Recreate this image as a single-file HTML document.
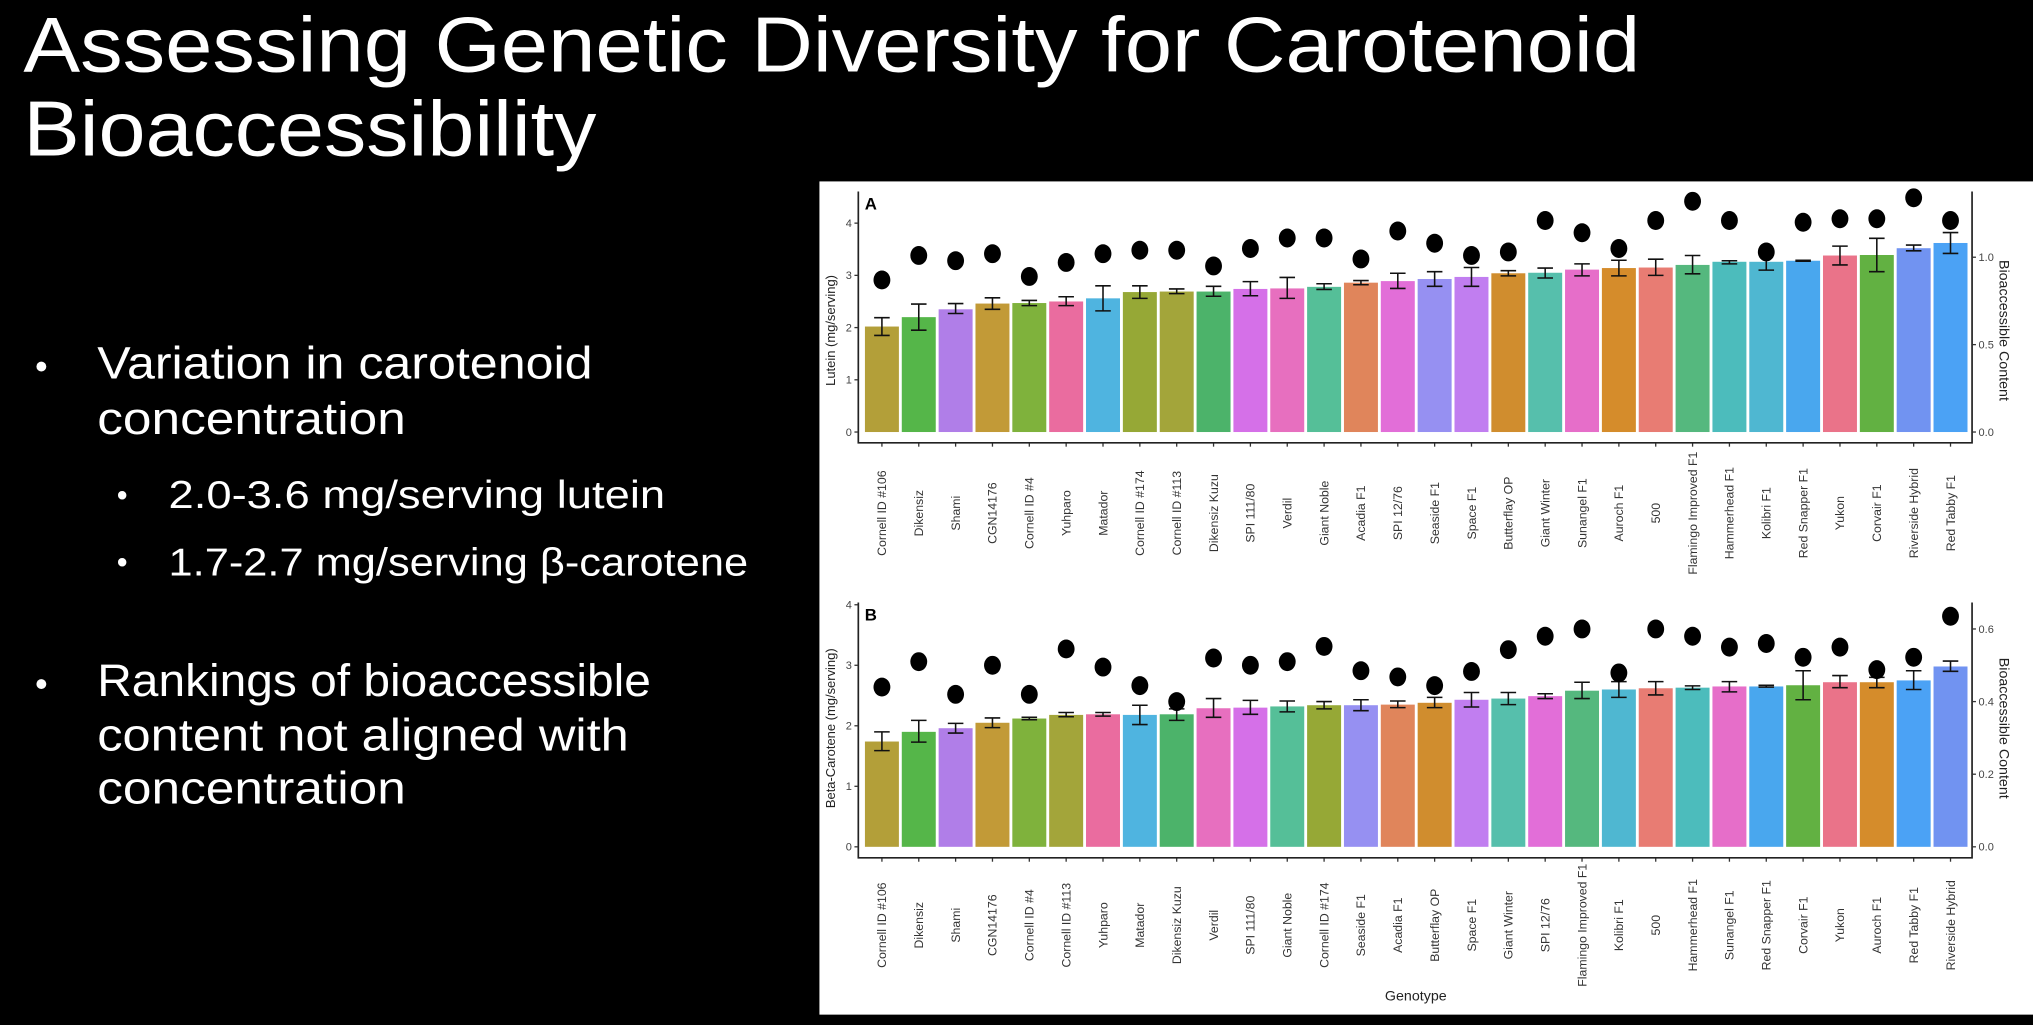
<!DOCTYPE html>
<html><head><meta charset="utf-8"><style>
html,body{margin:0;padding:0;background:#000;overflow:hidden}
svg{display:block}
</style></head><body>
<svg id="root" width="2033" height="1025" viewBox="0 0 1568 791" preserveAspectRatio="none" xmlns="http://www.w3.org/2000/svg" font-family="'Liberation Sans', sans-serif">
<rect x="0" y="0" width="1568" height="791" fill="#000"/>
<g fill="#fff" font-size="60">
<text x="18" y="55" textLength="1247" lengthAdjust="spacingAndGlyphs">Assessing Genetic Diversity for Carotenoid</text>
<text x="18" y="120" textLength="442" lengthAdjust="spacingAndGlyphs">Bioaccessibility</text>
</g>
<g fill="#fff" font-size="35">
<text x="27" y="292" font-size="28">•</text>
<text x="75" y="292" textLength="382" lengthAdjust="spacingAndGlyphs">Variation in carotenoid</text>
<text x="75" y="335" textLength="238" lengthAdjust="spacingAndGlyphs">concentration</text>
<text x="90" y="390" font-size="24">•</text>
<text x="130" y="392" font-size="30" textLength="383" lengthAdjust="spacingAndGlyphs">2.0-3.6 mg/serving lutein</text>
<text x="90" y="442" font-size="24">•</text>
<text x="130" y="444" font-size="30" textLength="447" lengthAdjust="spacingAndGlyphs">1.7-2.7 mg/serving β-carotene</text>
<text x="27" y="537" font-size="28">•</text>
<text x="75" y="537" textLength="427" lengthAdjust="spacingAndGlyphs">Rankings of bioaccessible</text>
<text x="75" y="579" textLength="410" lengthAdjust="spacingAndGlyphs">content not aligned with</text>
<text x="75" y="620" textLength="238" lengthAdjust="spacingAndGlyphs">concentration</text>
</g>
<rect x="632" y="140" width="936" height="643" fill="#fff"/>
<g id="chartA"></g>
<g id="chartB"></g>
<text x="1092" y="772" font-size="11" fill="#222" text-anchor="middle">Genotype</text>
</svg>
<script>
const colorMap = {"Cornell ID #106":"#b39f39","Dikensiz":"#55b649","Shami":"#b07ee8","CGN14176":"#c29a37","Cornell ID #4":"#7fb23c","Yuhparo":"#ea6c9f","Matador":"#4fb4e0","Cornell ID #174":"#96a836","Cornell ID #113":"#a3a53a","Dikensiz Kuzu":"#4cb36a","SPI 111/80":"#d570e8","Verdil":"#e76fbf","Giant Noble":"#55bf98","Acadia F1":"#e0855b","SPI 12/76":"#e26ed8","Seaside F1":"#9690f2","Space F1":"#c17ef0","Butterflay OP":"#d08d2e","Giant Winter":"#56bfac","Sunangel F1":"#e66ec9","Auroch F1":"#d58c2b","500":"#e87c73","Flamingo Improved F1":"#55b87e","Hammerhead F1":"#4cbcbc","Kolibri F1":"#4fb7d1","Red Snapper F1":"#49a7ee","Yukon":"#ea7389","Corvair F1":"#62b142","Riverside Hybrid":"#7193f1","Red Tabby F1":"#4ba2f5"};

const catsA = ["Cornell ID #106","Dikensiz","Shami","CGN14176","Cornell ID #4","Yuhparo","Matador","Cornell ID #174","Cornell ID #113","Dikensiz Kuzu","SPI 111/80","Verdil","Giant Noble","Acadia F1","SPI 12/76","Seaside F1","Space F1","Butterflay OP","Giant Winter","Sunangel F1","Auroch F1","500","Flamingo Improved F1","Hammerhead F1","Kolibri F1","Red Snapper F1","Yukon","Corvair F1","Riverside Hybrid","Red Tabby F1"];
const valsA = [2.02,2.2,2.35,2.46,2.47,2.5,2.56,2.68,2.69,2.69,2.74,2.75,2.78,2.86,2.89,2.93,2.97,3.04,3.05,3.11,3.14,3.15,3.2,3.26,3.26,3.28,3.38,3.39,3.52,3.62];
const loA = [1.85,1.95,2.27,2.35,2.42,2.42,2.32,2.56,2.65,2.6,2.61,2.56,2.73,2.82,2.75,2.79,2.79,2.99,2.95,2.99,2.99,3.0,3.03,3.22,3.1,3.27,3.2,3.07,3.47,3.42];
const hiA = [2.19,2.45,2.46,2.57,2.52,2.59,2.8,2.8,2.74,2.79,2.88,2.96,2.84,2.9,3.04,3.07,3.15,3.09,3.14,3.22,3.29,3.31,3.38,3.28,3.41,3.29,3.56,3.71,3.58,3.82];
const dotsA = [0.87,1.01,0.98,1.02,0.89,0.97,1.02,1.04,1.04,0.95,1.05,1.11,1.11,0.99,1.15,1.08,1.01,1.03,1.21,1.14,1.05,1.21,1.32,1.21,1.03,1.2,1.22,1.22,1.34,1.21];
const ticksLeftA = [0,1,2,3,4];
const ticksRightA = ["0.0","0.5","1.0"];

const catsB = ["Cornell ID #106","Dikensiz","Shami","CGN14176","Cornell ID #4","Cornell ID #113","Yuhparo","Matador","Dikensiz Kuzu","Verdil","SPI 111/80","Giant Noble","Cornell ID #174","Seaside F1","Acadia F1","Butterflay OP","Space F1","Giant Winter","SPI 12/76","Flamingo Improved F1","Kolibri F1","500","Hammerhead F1","Sunangel F1","Red Snapper F1","Corvair F1","Yukon","Auroch F1","Red Tabby F1","Riverside Hybrid"];
const valsB = [1.74,1.9,1.96,2.05,2.12,2.18,2.19,2.18,2.19,2.29,2.3,2.32,2.34,2.34,2.35,2.38,2.43,2.45,2.49,2.58,2.6,2.62,2.63,2.65,2.65,2.67,2.72,2.72,2.75,2.98];
const loB = [1.59,1.73,1.88,1.97,2.1,2.15,2.16,2.02,2.09,2.14,2.19,2.23,2.28,2.25,2.3,2.3,2.31,2.35,2.45,2.45,2.47,2.51,2.6,2.56,2.64,2.43,2.63,2.63,2.6,2.9];
const hiB = [1.9,2.09,2.04,2.13,2.14,2.22,2.22,2.34,2.28,2.45,2.42,2.41,2.4,2.43,2.41,2.47,2.55,2.55,2.53,2.72,2.73,2.73,2.66,2.73,2.67,2.91,2.83,2.8,2.91,3.07];
const dotsB = [0.44,0.51,0.42,0.5,0.42,0.545,0.495,0.444,0.4,0.52,0.5,0.51,0.552,0.485,0.468,0.444,0.483,0.543,0.58,0.6,0.479,0.6,0.58,0.55,0.56,0.522,0.55,0.488,0.522,0.635];
const ticksLeftB = [0,1,2,3,4];
const ticksRightB = ["0.0","0.2","0.4","0.6"];

const NS = "http://www.w3.org/2000/svg";
function mk(tag, attrs, parent){ const e=document.createElementNS(NS,tag); for(const k in attrs) e.setAttribute(k,attrs[k]); parent.appendChild(e); return e; }
function xPos(i){ return 680.2 + i*28.42; }

function drawChart(g, cfg){
  const yL = v => cfg.zero - v*cfg.unitL;
  const yR = v => cfg.zero - v*cfg.unitR;
  const bw = 26.2;
  cfg.cats.forEach((c,i)=>{
    const x = xPos(i);
    const r = mk('rect',{x:x-bw/2,y:yL(cfg.vals[i]),width:bw,height:cfg.zero-yL(cfg.vals[i]),fill:colorMap[c]},g);
    
    
    const eb = mk('path',{d:`M${x-6},${yL(cfg.hi[i])}H${x+6}M${x},${yL(cfg.hi[i])}V${yL(cfg.lo[i])}M${x-6},${yL(cfg.lo[i])}H${x+6}`,stroke:'#111','stroke-width':1.2,fill:'none'},g);
    
    
    const d = mk('ellipse',{cx:x,cy:yR(cfg.dots[i]),rx:6.5,ry:7.3,fill:'#000'},g);
    
    
    mk('line',{x1:x,x2:x,y1:cfg.axisY,y2:cfg.axisY+3,stroke:'#333','stroke-width':1},g);
    const t = mk('text',{x:0,y:0,'font-size':9.5,fill:'#333','text-anchor':'middle',transform:`translate(${x+3.3},${cfg.labelY}) rotate(-90)`},g);
    t.textContent = c;
    
    
  });
  const ax = mk('path',{d:`M662,${cfg.top}V${cfg.axisY}H1521V${cfg.top}`,stroke:'#222','stroke-width':1.3,fill:'none'},g);
  
  
  cfg.ticksL.forEach(v=>{
    mk('line',{x1:659,x2:662,y1:yL(v),y2:yL(v),stroke:'#333'},g);
    const t = mk('text',{x:657,y:yL(v)+3,'font-size':8.5,fill:'#444','text-anchor':'end'},g);
    t.textContent = v;
    
    
  });
  cfg.ticksR.forEach(s=>{
    const v = parseFloat(s);
    mk('line',{x1:1521,x2:1524,y1:yR(v),y2:yR(v),stroke:'#333'},g);
    const t = mk('text',{x:1526,y:yR(v)+3,'font-size':8.5,fill:'#444'},g);
    t.textContent = s;
    
    
  });
  const tl = mk('text',{x:0,y:0,'font-size':10,fill:'#222','text-anchor':'middle',transform:`translate(644,${cfg.titleY}) rotate(-90)`},g);
  tl.textContent = cfg.titleL;
  
  
  const tr = mk('text',{x:0,y:0,'font-size':11,fill:'#222','text-anchor':'middle',transform:`translate(1542,${cfg.titleY}) rotate(90)`},g);
  tr.textContent = 'Bioaccessible Content';
  
  
  const p = mk('text',{x:667,y:cfg.top+14,'font-size':13,'font-weight':'bold',fill:'#000'},g);
  p.textContent = cfg.letter;
  
  
}

drawChart(document.getElementById('chartA'),{cats:catsA,vals:valsA,lo:loA,hi:hiA,dots:dotsA,zero:333.4,unitL:40.3,unitR:134.9,axisY:341.7,top:147.8,labelY:396,ticksL:ticksLeftA,ticksR:ticksRightA,titleL:'Lutein (mg/serving)',titleY:255,letter:'A'});
drawChart(document.getElementById('chartB'),{cats:catsB,vals:valsB,lo:loB,hi:hiB,dots:dotsB,zero:653.5,unitL:46.7,unitR:280.2,axisY:662,top:465,labelY:714,ticksL:ticksLeftB,ticksR:ticksRightB,titleL:'Beta-Carotene (mg/serving)',titleY:562,letter:'B'});
</script>
</body></html>
